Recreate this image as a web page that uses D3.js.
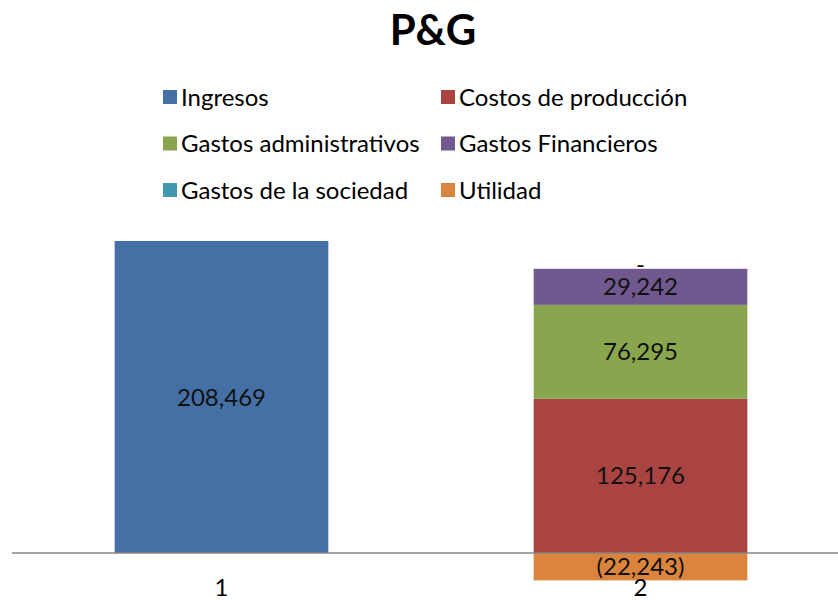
<!DOCTYPE html>
<html>
<head>
<meta charset="utf-8">
<script src="https://cdnjs.cloudflare.com/ajax/libs/d3/7.8.5/d3.min.js"></script>
<style>
  body { margin: 0; background: #fff; }
  text { font-family: Lato, "Open Sans", sans-serif; }
</style>
</head>
<body>
<div id="chart"></div>
<script>
// chart data
var categories = ['1', '2'];
var seriesNames = ['Ingresos', 'Costos de producción', 'Gastos administrativos',
    'Gastos Financieros', 'Gastos de la sociedad', 'Utilidad'];
var seriesColors = ['#4470a6', '#a94442', '#89a54e', '#71588f', '#4198af', '#db843d'];
// values per series, [category 1, category 2]
var ingresos = [253300, 0];       // bar height (label shows 208,469)
var costos = [0, 125176];
var gastosAdmin = [0, 76295];
var gastosFin = [0, 29242];
var gastosSoc = [0, 0];
var utilidad = [0, -22243];
// label text shown in the reference
var labelText = [
    ['208,469', null],
    [null, '125,176'],
    [null, '76,295'],
    [null, '29,242'],
    [null, '-'],
    [null, '(22,243)']
];

var series = [ingresos, costos, gastosAdmin, gastosFin, gastosSoc, utilidad];

var width = 838, height = 600;

var svg = d3.select('#chart').append('svg')
    .attr('width', width)
    .attr('height', height);

// title
svg.append('text')
    .attr('x', 433)
    .attr('y', 45)
    .attr('text-anchor', 'middle')
    .style('font-size', '42px')
    .style('font-weight', 'bold')
    .text('P&G');

// legend, two columns
var legend = svg.append('g');
seriesNames.forEach(function (name, i) {
    var col = i % 2, row = Math.floor(i / 2);
    var gx = col == 0 ? 163 : 441;
    var gy = 97 + row * 46.5;
    legend.append('rect')
        .attr('x', gx)
        .attr('y', gy - 7)
        .attr('width', 14)
        .attr('height', 14)
        .attr('fill', seriesColors[i]);
    legend.append('text')
        .attr('x', gx + 18)
        .attr('y', gy + 8.5)
        .style('font-size', '24px')
        .text(name);
});

// scales
var xScale = d3.scaleBand()
    .domain(categories)
    .range([12, 850])
    .paddingInner(0.49)
    .paddingOuter(0.245);

var yScale = d3.scaleLinear()
    .domain([-22243, 253300])
    .range([580.4, 241]);

// stacking, positive up and negative down from zero
var stacks = categories.map(function () { return { pos: 0, neg: 0 }; });
var rects = [];
series.forEach(function (vals, s) {
    vals.forEach(function (v, c) {
        if (v == 0 && labelText[s][c] == null) return;
        var y0, y1;
        if (v >= 0) { y0 = stacks[c].pos; y1 = y0 + v; stacks[c].pos = y1; }
        else { y0 = stacks[c].neg; y1 = y0 + v; stacks[c].neg = y1; }
        rects.push({ s: s, c: c, y0: y0, y1: y1, label: labelText[s][c] });
    });
});

var plot = svg.append('g');

plot.selectAll('rect.bar')
    .data(rects)
    .enter().append('rect')
    .attr('class', 'bar')
    .attr('x', function (d) { return xScale(categories[d.c]); })
    .attr('width', xScale.bandwidth())
    .attr('y', function (d) { return yScale(Math.max(d.y0, d.y1)); })
    .attr('height', function (d) { return Math.abs(yScale(d.y0) - yScale(d.y1)); })
    .attr('fill', function (d) { return seriesColors[d.s]; });

// zero axis line
var xAxis = d3.axisBottom(xScale).tickSize(0).tickPadding(0);
var axisG = svg.append('g')
    .attr('transform', 'translate(0,' + yScale(0) + ')')
    .call(xAxis);
axisG.select('.domain')
    .attr('d', 'M12,0H838')
    .attr('stroke', '#868686')
    .attr('stroke-width', 1.5);
axisG.selectAll('.tick text')
    .attr('y', 26)
    .attr('dy', '0.71em')
    .style('font-size', '24px')
    .style('font-family', 'Lato, "Open Sans", sans-serif')
    .attr('fill', '#000');

// data labels
plot.selectAll('text.lbl')
    .data(rects)
    .enter().append('text')
    .attr('class', 'lbl')
    .attr('x', function (d) { return xScale(categories[d.c]) + xScale.bandwidth() / 2; })
    .attr('y', function (d) {
        if (d.y0 == d.y1) return yScale(d.y0) + 4;
        return (yScale(d.y0) + yScale(d.y1)) / 2 + 8.5;
    })
    .attr('text-anchor', 'middle')
    .style('font-size', '24px')
    .attr('fill', '#111')
    .text(function (d) { return d.label; });
</script>
</body>
</html>
